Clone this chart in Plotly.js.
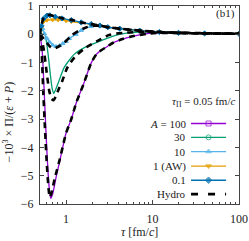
<!DOCTYPE html>
<html><head><meta charset="utf-8">
<script src="https://cdn.plot.ly/plotly-3.0.1.min.js"></script>
<style>html,body{margin:0;padding:0;background:#fff}#chart{width:249px;height:241px}</style>
</head><body><div id="chart"></div>
<script>
// A = 100
const tauA100 = [0.5,0.53,0.555,0.589,0.62,0.645,0.667,0.7,0.774,0.85,0.92,1.0,1.15,1.32,1.6,1.95,2.23,2.46,3.0,3.5,4.5,5.9,9.2,15,25,50,100];
const valA100 = [0,-0.6,-1.8,-3.6,-4.9,-5.55,-5.8,-5.65,-5.0,-4.45,-3.97,-3.5,-3.0,-2.4,-1.75,-1.02,-0.72,-0.6,-0.43,-0.3,-0.17,-0.07,0.03,0.05,0.05,0.03,0.02];
const tauH100 = [0.5,0.52,0.545,0.57,0.6,0.63,0.65,0.68,0.74,0.85,0.92,1.0,1.15,1.32,1.6,1.95,2.23,2.46,3.0,3.5,4.5,5.9,9.2,15,25,50,100];
const valH100 = [0,-0.5,-2.0,-3.3,-4.6,-5.5,-5.77,-5.6,-5.1,-4.4,-3.95,-3.5,-3.0,-2.4,-1.75,-1.02,-0.72,-0.6,-0.43,-0.3,-0.17,-0.07,0.03,0.05,0.05,0.03,0.02];
// A = 30
const tauA30 = [0.5,0.53,0.56,0.584,0.62,0.66,0.69,0.72,0.76,0.83,0.95,1.1,1.24,1.76,2.73,3.66,5,7,10,20,40,100];
const valA30 = [0,0.15,0.05,-0.13,-0.7,-1.45,-1.9,-2.09,-1.95,-1.64,-1.18,-0.9,-0.71,-0.42,-0.19,-0.05,0.04,0.08,0.08,0.05,0.03,0.02];
const tauH30 = [0.5,0.55,0.6,0.64,0.68,0.72,0.76,0.82,0.907,1.035,1.29,1.68,2.29,3.2,5,7,10,20,40,100];
const valH30 = [0,-0.5,-1.4,-2.0,-2.28,-2.33,-2.2,-1.95,-1.64,-1.18,-0.77,-0.48,-0.24,-0.02,0.06,0.08,0.08,0.05,0.03,0.02];
// A = 10
const tauA10 = [0.5,0.515,0.535,0.563,0.6,0.643,0.7,0.767,0.84,0.916,1.0,1.09,1.3,1.5,1.95,2.46,3.04,4.17,7.1,12,20,40,100];
const valA10 = [0,0.26,0.2,0.02,-0.14,-0.27,-0.38,-0.43,-0.4,-0.33,-0.25,-0.15,0.0,0.14,0.28,0.3,0.24,0.2,0.13,0.08,0.05,0.03,0.02];
const tauH10 = [0.5,0.55,0.6,0.66,0.72,0.8,0.95,1.15,1.4,1.7,2.0,2.46,3.04,4.17,7.1,12,20,40,100];
const valH10 = [0,-0.15,-0.3,-0.45,-0.5,-0.45,-0.3,-0.05,0.12,0.24,0.3,0.3,0.25,0.2,0.13,0.08,0.05,0.03,0.02];
// A = 1 (AW)
const tauA1 = [0.5,0.52,0.55,0.6,0.7,0.81,1.0,1.15,1.5,1.95,2.46,3.04,4.17,7.1,12,20,40,100];
const valA1 = [0,0.25,0.45,0.5,0.51,0.51,0.48,0.45,0.4,0.35,0.31,0.25,0.2,0.13,0.08,0.05,0.03,0.02];
// A = 0.1 and its hydro
const tauA01 = [0.5,0.52,0.55,0.6,0.65,0.75,0.9,1.15,1.5,1.95,2.46,3.04,4.17,7.1,12,20,40,100];
const valA01 = [0,0.3,0.55,0.66,0.67,0.62,0.56,0.5,0.42,0.36,0.31,0.25,0.2,0.13,0.08,0.05,0.03,0.02];
const valHTop = [0,0.32,0.57,0.68,0.68,0.63,0.57,0.51,0.42,0.36,0.31,0.25,0.2,0.13,0.08,0.05,0.03,0.02];

const legendLabels = ['<i>A</i> = 100','30','10','1 (AW)','0.1','Hydro'];
const xTickVals = [1,10,100];

const FONT = 'Liberation Serif, DejaVu Serif, serif';
const AX = '#444';
const minorVals = [];
[0.1,1,10].forEach(d => { for (let k=2;k<=9;k++) { const v=k*d; if (v>0.5 && v<100) minorVals.push(v); } });

const series = [
  {t:tauA100, v:valA100, color:'#9400D3', sym:'square-open', mk:false},
  {t:tauA30, v:valA30, color:'#009E73', sym:'circle-open', mk:false},
  {t:tauA10, v:valA10, color:'#56B4E9', sym:'triangle-up', mk:true},
  {t:tauA1, v:valA1, color:'#E69F00', sym:'triangle-down', mk:true},
  {t:tauA01, v:valA01, color:'#0072B2', sym:'diamond', mk:true}
];
const hydros = [[tauH100,valH100],[tauH30,valH30],[tauH10,valH10],[tauA01,valHTop]];

const traces = [];
series.forEach(s => traces.push({
  x:s.t, y:s.v, type:'scatter', mode:s.mk ? 'lines+markers' : 'lines',
  line:{color:s.color, width:1.3, shape:'spline', smoothing:0.7},
  marker:{symbol:s.sym, size:4, color:s.color, line:{color:s.color, width:1}},
  hoverinfo:'skip'
}));
hydros.forEach(h => traces.push({
  x:h[0], y:h[1], type:'scatter', mode:'lines',
  line:{color:'#000', width:2.6, dash:'6px,5px', shape:'spline', smoothing:0.7},
  hoverinfo:'skip'
}));

// legend samples on an overlay axis (paper-like 0..1)
const rowY = [0.4065,0.3365,0.265,0.1915,0.12,0.05];
const annotations = [];
legendLabels.forEach((lab,i) => {
  annotations.push({xref:'paper', yref:'paper', x:0.745, y:rowY[i], xanchor:'right', yanchor:'middle',
    text:lab, showarrow:false, font:{family:FONT, size:11, color:'#222'}});
  if (i < series.length) {
    const s = series[i];
    traces.push({x:[0.759,0.847,0.935], y:[rowY[i],rowY[i],rowY[i]], xaxis:'x2', yaxis:'y2',
      type:'scatter', mode:'lines+markers', line:{color:s.color, width:1.3},
      marker:{symbol:s.sym, size:[0,5,0], color:s.color, line:{color:s.color, width:1}}, hoverinfo:'skip'});
  } else {
    traces.push({x:[0.759,0.935], y:[rowY[i],rowY[i]], xaxis:'x2', yaxis:'y2',
      type:'scatter', mode:'lines', line:{color:'#000', width:2.6, dash:'7px,10px'}, hoverinfo:'skip'});
  }
});
annotations.push({xref:'paper', yref:'paper', x:0.99, y:0.515, xanchor:'right', yanchor:'middle',
  text:'<i>τ</i><sub>Π</sub> = 0.05 fm/<i>c</i>', showarrow:false, font:{family:FONT, size:11, color:'#222'}});
annotations.push({xref:'paper', yref:'paper', x:0.99, y:0.96, xanchor:'right', yanchor:'middle',
  text:'(b1)', showarrow:false, font:{family:FONT, size:11, color:'#222'}});
// axis titles as annotations
annotations.push({xref:'paper', yref:'paper', x:-0.158, y:0.415, xanchor:'center', yanchor:'middle', textangle:-90,
  text:'−10<sup>3</sup> × Π/(<i>ε</i> + <i>P</i>)', showarrow:false, font:{family:FONT, size:12, color:'#222'}});
annotations.push({xref:'paper', yref:'paper', x:0.5, y:-0.14, xanchor:'center', yanchor:'middle',
  text:'<i>τ</i> [fm/<i>c</i>]', showarrow:false, font:{family:FONT, size:12, color:'#222'}});

const layout = {
  width:249, height:241,
  margin:{l:40, r:10, t:6, b:37},
  paper_bgcolor:'#fff', plot_bgcolor:'rgba(0,0,0,0)',
  showlegend:false,
  font:{family:FONT, size:12, color:'#222'},
  xaxis:{type:'log', range:[Math.log10(0.5), 2], tickmode:'array', tickvals:xTickVals, ticktext:xTickVals.map(String),
    ticks:'inside', ticklen:4, tickcolor:AX, mirror:'allticks', showline:true, linecolor:AX, linewidth:1,
    showgrid:false, zeroline:false, ticklabeloverflow:'allow', ticklabelstandoff:4,
    minor:{tickmode:'array', tickvals:minorVals, ticks:'inside', ticklen:2, tickcolor:AX, showgrid:false},
    tickfont:{family:FONT, size:12, color:'#222'}},
  yaxis:{range:[-6,1], tickmode:'linear', tick0:0, dtick:1,
    ticks:'inside', ticklen:4, tickcolor:AX, mirror:'allticks', showline:true, linecolor:AX, linewidth:1,
    showgrid:false, zeroline:false, ticklabeloverflow:'allow', ticklabelstandoff:3,
    tickfont:{family:FONT, size:12, color:'#222'}},
  xaxis2:{domain:[0,1], range:[0,1], visible:false, anchor:'y2', fixedrange:true},
  yaxis2:{domain:[0,1], range:[0,1], visible:false, anchor:'x2', fixedrange:true},
  annotations:annotations
};
Plotly.newPlot('chart', traces, layout, {staticPlot:true, displayModeBar:false});
</script>
</body></html>
